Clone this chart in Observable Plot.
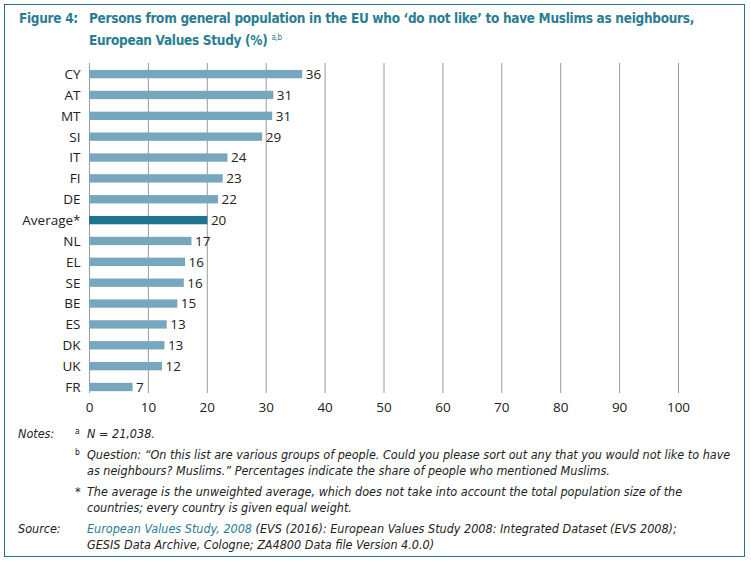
<!DOCTYPE html>
<html>
<head>
<meta charset="utf-8">
<script src="https://cdn.jsdelivr.net/npm/d3@7"></script>
<script src="https://cdn.jsdelivr.net/npm/@observablehq/plot@0.6"></script>
<style>
  html, body { margin: 0; padding: 0; background: #fff; }
  #wrap { position: relative; width: 751px; height: 564px; overflow: hidden;
          font-family: "DejaVu Sans Condensed", "Liberation Sans Narrow", Roboto, sans-serif; }
  .frame { position: absolute; left: 4px; top: 4px; width: 741px; height: 553px;
           border: 1px solid #2c6f82; box-sizing: border-box; }
  .title { position: absolute; left: 19px; top: 8px; width: 725px; color: #2a7d93;
           font-size: 13.5px; font-weight: bold; line-height: 20px; letter-spacing: -0.3px; white-space: nowrap; }
  .title .lab { position: absolute; left: 0; top: 0; }
  .title .txt { position: absolute; left: 70px; top: 0; }
  .title sup { font-size: 8px; vertical-align: 5px; font-weight: normal; }
  #chart { position: absolute; left: 0; top: 50px; }
  .notes { position: absolute; left: 18px; top: 426px; width: 720px; font-style: italic;
           font-size: 12.5px; line-height: 16px; color: #222; }
  .row { position: relative; padding-left: 69px; margin-bottom: 5px; }
  .row .lab { position: absolute; left: 0; top: 0; }
  .row .mk { position: absolute; left: 57px; top: -3px; font-size: 8.5px; font-style: normal; }
  .row .mk.star { font-size: 12.5px; top: 0; font-style: italic; }
  .link { color: #2a7d93; }
</style>
</head>
<body>
<div id="wrap">
  <div class="frame"></div>
  <div class="title">
    <div class="lab">Figure 4:</div>
    <div class="txt">Persons from general population in the EU who ‘do not like’ to have Muslims as neighbours,<br>European Values Study (%) <sup>a,b</sup></div>
  </div>
  <div id="chart"></div>
  <div class="notes">
    <div class="row"><span class="lab">Notes:</span><span class="mk">a</span>N = 21,038.</div>
    <div class="row"><span class="mk">b</span>Question: “On this list are various groups of people. Could you please sort out any that you would not like to have<br>as neighbours? Muslims.” Percentages indicate the share of people who mentioned Muslims.</div>
    <div class="row"><span class="mk star">*</span>The average is the unweighted average, which does not take into account the total population size of the<br>countries; every country is given equal weight.</div>
    <div class="row"><span class="lab">Source:</span><span class="link">European Values Study, 2008</span> (EVS (2016): European Values Study 2008: Integrated Dataset (EVS 2008);<br>GESIS Data Archive, Cologne; ZA4800 Data file Version 4.0.0)</div>
  </div>
</div>
<script>
const countries = ["CY", "AT", "MT", "SI", "IT", "FI", "DE", "Average*", "NL", "EL", "SE", "BE", "ES", "DK", "UK", "FR"];
const values = [36.2, 31.3, 31.1, 29.4, 23.5, 22.7, 21.9, 20.1, 17.4, 16.3, 16.1, 15.0, 13.2, 12.8, 12.4, 7.4];
const averageLabel = "Average*";
const xTicks = [0, 10, 20, 30, 40, 50, 60, 70, 80, 90, 100];

const lightBar = "#76a7be";
const darkBar = "#1f7490";

const data = countries.map((c, i) => ({country: c, value: values[i]}));

const chart = Plot.plot({
  width: 751,
  height: 368,
  marginLeft: 89,
  marginRight: 73,
  marginTop: 13,
  marginBottom: 25,
  style: {fontFamily: "'Open Sans', 'Noto Sans', sans-serif", fontSize: "13.5px", color: "#222", background: "transparent"},
  x: {domain: [0, 100], ticks: xTicks, tickSize: 0, tickPadding: 9, label: null},
  y: {domain: countries, paddingInner: 0.6, paddingOuter: 0.21, align: 0.79, round: false, tickSize: 0, tickPadding: 9, label: null},
  marks: [
    Plot.ruleX(xTicks, {stroke: "#9a9a9a", strokeWidth: 1}),
    Plot.barX(data, {filter: d => d.country !== averageLabel, x: "value", y: "country", fill: lightBar}),
    Plot.barX(data, {filter: d => d.country === averageLabel, x: "value", y: "country", fill: darkBar}),
    Plot.text(data, {x: "value", y: "country", text: d => String(Math.round(d.value)), textAnchor: "start", dx: 3, fill: "#222", fontSize: 13.5})
  ]
});
document.getElementById("chart").appendChild(chart);
</script>
</body>
</html>
